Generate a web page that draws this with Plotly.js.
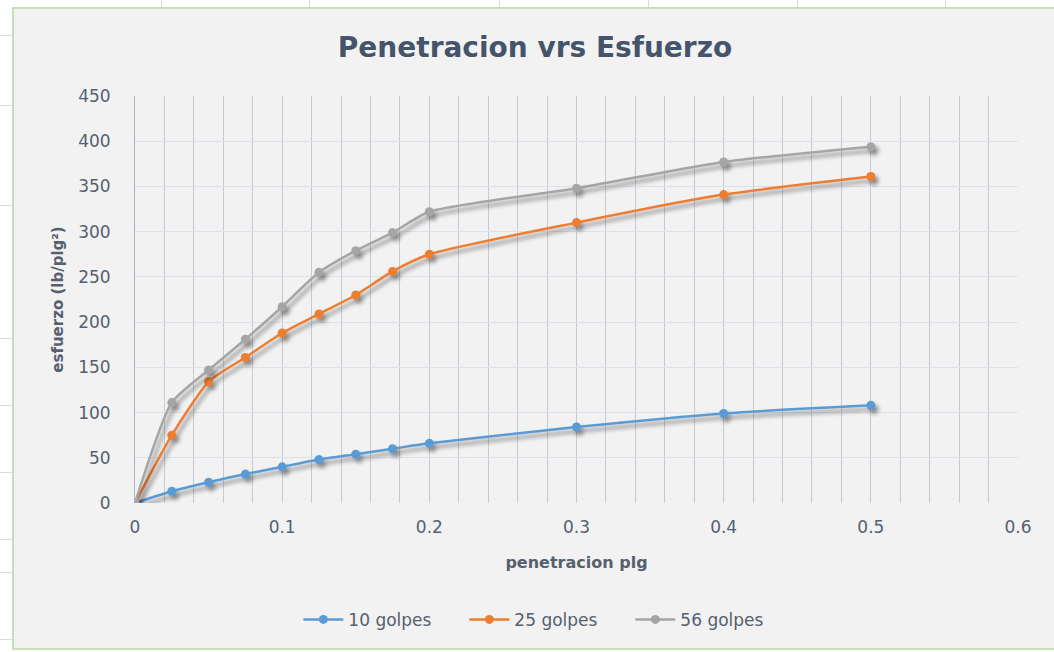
<!DOCTYPE html>
<html>
<head>
<meta charset="utf-8">
<script src="https://cdn.plot.ly/plotly-3.0.1.min.js"></script>
<style>
  html, body { margin: 0; padding: 0; background: #ffffff; width: 1054px; height: 652px; overflow: hidden; position: relative; }
  #frame {
    position: absolute; left: 12px; top: 7px; width: 1042px; height: 639px;
    border: 2px solid #c6dfb4; border-right: none; background: #f2f2f2;
  }
  #chart { width: 1042px; height: 639px; }
  .cell-v { position: absolute; top: 0; width: 1px; height: 7px; background: #d9d9d9; }
  .cell-h { position: absolute; left: 0; width: 12px; height: 1px; background: #d9d9d9; }
  .scatterlayer .trace { filter: drop-shadow(3px 4px 2px rgba(0,0,0,0.45)); }
</style>
</head>
<body>
<div class="cell-v" style="left:161px"></div>
<div class="cell-v" style="left:309px"></div>
<div class="cell-v" style="left:499px"></div>
<div class="cell-v" style="left:648px"></div>
<div class="cell-v" style="left:797px"></div>
<div class="cell-v" style="left:945px"></div>
<div class="cell-h" style="top:35px"></div>
<div class="cell-h" style="top:105px"></div>
<div class="cell-h" style="top:205px"></div>
<div class="cell-h" style="top:338px"></div>
<div class="cell-h" style="top:405px"></div>
<div class="cell-h" style="top:472px"></div>
<div class="cell-h" style="top:539px"></div>
<div class="cell-h" style="top:572px"></div>
<div class="cell-h" style="top:639px"></div>
<div id="frame"><div id="chart"></div></div>
<script>
// Penetration (in) vs. stress (lb/in²) for three compaction levels
const penetracion = [0, 0.025, 0.05, 0.075, 0.1, 0.125, 0.15, 0.175, 0.2, 0.3, 0.4, 0.5];
const golpes10 = [0, 13, 23, 32, 40, 48, 54, 60, 66, 84, 99, 108];
const golpes25 = [0, 75, 134, 161, 188, 209, 230, 256, 275, 310, 341, 361];
const golpes56 = [0, 111, 147, 181, 217, 255, 279, 299, 322, 348, 377, 394];

const seriesNames = ['10 golpes', '25 golpes', '56 golpes'];
const seriesColors = ['#5b9bd5', '#ed7d31', '#a5a5a5'];
const seriesValues = [golpes10, golpes25, golpes56];

const xTicks = [0, 0.1, 0.2, 0.3, 0.4, 0.5, 0.6];
const xTickText = ['0', '0.1', '0.2', '0.3', '0.4', '0.5', '0.6'];
const yTicks = [0, 50, 100, 150, 200, 250, 300, 350, 400, 450];

const FONT = '"DejaVu Sans", "Open Sans", sans-serif';
const TEXT = '#56606f';

const traces = seriesValues.map((vals, i) => ({
  x: penetracion,
  y: vals,
  name: seriesNames[i],
  type: 'scatter',
  mode: 'lines+markers',
  line: { color: seriesColors[i], width: 2.5, shape: 'spline', smoothing: 0.6 },
  marker: { color: seriesColors[i], size: 9 }
}));

const layout = {
  width: 1042,
  height: 639,
  paper_bgcolor: '#f2f2f2',
  plot_bgcolor: '#f2f2f2',
  margin: { l: 121, r: 38, t: 87, b: 144 },
  font: { family: FONT, color: TEXT },
  title: {
    text: '<b>Penetracion vrs Esfuerzo</b>',
    font: { family: FONT, size: 28, color: '#44546a' },
    x: 0.5, xanchor: 'center', xref: 'container',
    y: 0.94, yanchor: 'middle'
  },
  xaxis: {
    range: [0, 0.6],
    tickvals: xTicks,
    ticktext: xTickText,
    showgrid: true,
    gridcolor: '#c5cbd4',
    gridwidth: 1,
    minor: { dtick: 0.02, showgrid: true, gridcolor: '#c5cbd4', gridwidth: 1 },
    zeroline: false,
    showline: false,
    ticks: 'outside', ticklen: 9, tickcolor: 'rgba(0,0,0,0)',
    tickfont: { family: FONT, size: 17, color: TEXT },
    title: {
      text: '<b>penetracion plg</b>',
      font: { family: FONT, size: 16, color: TEXT },
      standoff: 20
    }
  },
  yaxis: {
    range: [0, 450],
    tickvals: yTicks,
    showgrid: true,
    gridcolor: '#dbe2ea',
    gridwidth: 1,
    zeroline: false,
    showline: true,
    linecolor: '#a9b5c6',
    linewidth: 1,
    ticks: 'outside', ticklen: 20, tickcolor: 'rgba(0,0,0,0)',
    tickfont: { family: FONT, size: 17, color: TEXT },
    title: {
      text: '<b>esfuerzo (lb/plg²)</b>',
      font: { family: FONT, size: 15, color: TEXT },
      standoff: 10
    }
  },
  legend: {
    orientation: 'h',
    x: 0.467, xanchor: 'center',
    y: -0.284, yanchor: 'middle',
    font: { family: FONT, size: 17, color: TEXT },
    bgcolor: 'rgba(0,0,0,0)',
    itemwidth: 40,
    entrywidth: 111,
    tracegroupgap: 0
  },
  showlegend: true
};

Plotly.newPlot('chart', traces, layout, { displayModeBar: false, staticPlot: true });
</script>
</body>
</html>
